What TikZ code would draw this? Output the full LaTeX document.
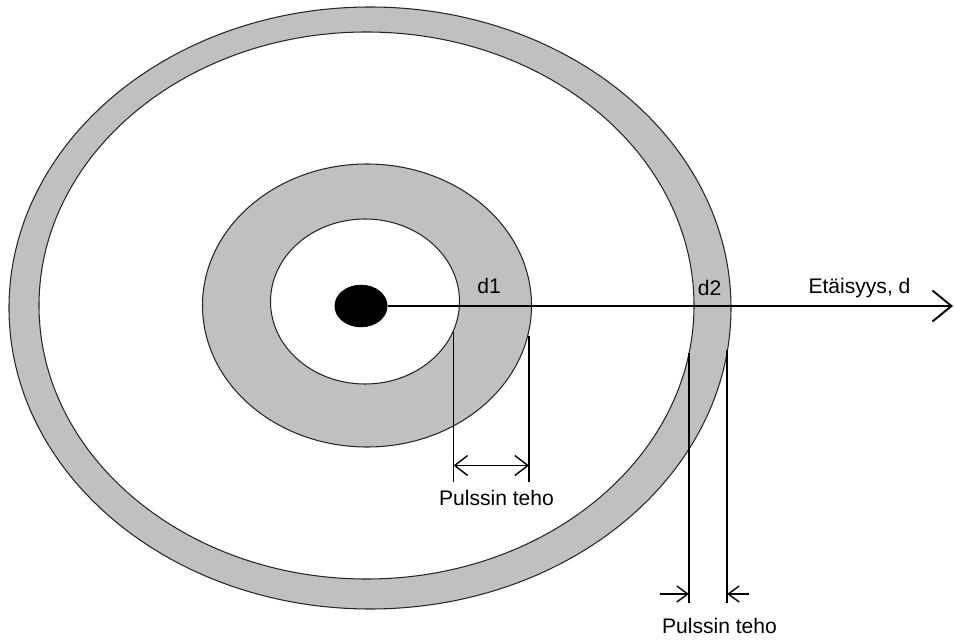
\documentclass[tikz,border=0pt]{standalone}
\usepackage{fontspec}
\setmainfont{Liberation Sans}
\usetikzlibrary{arrows.meta,shapes.geometric}
\definecolor{ringgray}{RGB}{192,192,192}
\tikzset{
  ring/.style={draw=black!85, line width=0.6pt},
  dimline/.style={line width=0.8pt},
  lbl/.style={font=\fontsize{12}{14}\selectfont, anchor=base, inner sep=0pt},
}
\begin{document}
\begin{tikzpicture}

\useasboundingbox (0,0) rectangle (19.08,12.78);

% ── RINGS (pulse fronts) ─────────────────────────────────────────────────
\fill[ringgray, ring] (7.40, 6.62) ellipse [x radius=7.22cm, y radius=6.02cm];
\fill[white, ring]    (7.33, 6.67) ellipse [x radius=6.55cm, y radius=5.47cm];
\fill[ringgray, ring] (7.34, 6.67) ellipse [x radius=3.29cm, y radius=2.83cm];
\fill[white, ring]    (7.30, 6.75) ellipse [x radius=1.89cm, y radius=1.65cm];

% ── SOURCE + DISTANCE AXIS ───────────────────────────────────────────────
\node[ellipse, fill=black, inner sep=0pt, minimum width=1.06cm, minimum height=0.85cm]
  (src) at (7.22, 6.66) {};
\coordinate (axisend) at (19.06, 6.66);
\draw[line width=1.1pt, -{Straight Barb[length=0.38cm, width=0.62cm]}]
  (src.east) -- (axisend);

\node[lbl] (d1) at ( 9.78, 6.91) {d1};
\node[lbl] (d2) at (14.19, 6.88) {d2};
\node[lbl] (etaisyys) at (17.19, 6.91) {Etäisyys, d};

% ── INNER PULSE WIDTH (d1) ───────────────────────────────────────────────
\coordinate (p1ltop) at ( 9.07, 6.15);
\coordinate (p1lbot) at ( 9.07, 3.15);
\coordinate (p1rtop) at (10.58, 6.06);
\coordinate (p1rbot) at (10.58, 3.15);
\coordinate (p1larr) at ( 9.07, 3.47);
\coordinate (p1rarr) at (10.58, 3.47);
\draw[dimline] (p1ltop) -- (p1lbot);
\draw[dimline] (p1rtop) -- (p1rbot);
\draw[dimline, {Straight Barb[length=0.26cm, width=0.40cm]}-{Straight Barb[length=0.26cm, width=0.40cm]}]
  (p1larr) -- (p1rarr);
\node[lbl] (teho1) at (9.93, 2.68) {Pulssin teho};

% ── OUTER PULSE WIDTH (d2) ───────────────────────────────────────────────
\coordinate (p2ltop) at (13.78, 5.72);
\coordinate (p2lbot) at (13.78, 0.72);
\coordinate (p2rtop) at (14.54, 5.78);
\coordinate (p2rbot) at (14.54, 0.72);
\coordinate (p2lin)  at (13.20, 0.90);
\coordinate (p2larr) at (13.78, 0.90);
\coordinate (p2rin)  at (14.98, 0.90);
\coordinate (p2rarr) at (14.54, 0.90);
\draw[dimline] (p2ltop) -- (p2lbot);
\draw[dimline] (p2rtop) -- (p2rbot);
\draw[dimline, -{Straight Barb[length=0.22cm, width=0.32cm]}] (p2lin) -- (p2larr);
\draw[dimline, -{Straight Barb[length=0.22cm, width=0.32cm]}] (p2rin) -- (p2rarr);
\node[lbl] (teho2) at (14.39, 0.12) {Pulssin teho};

\end{tikzpicture}
\end{document}
